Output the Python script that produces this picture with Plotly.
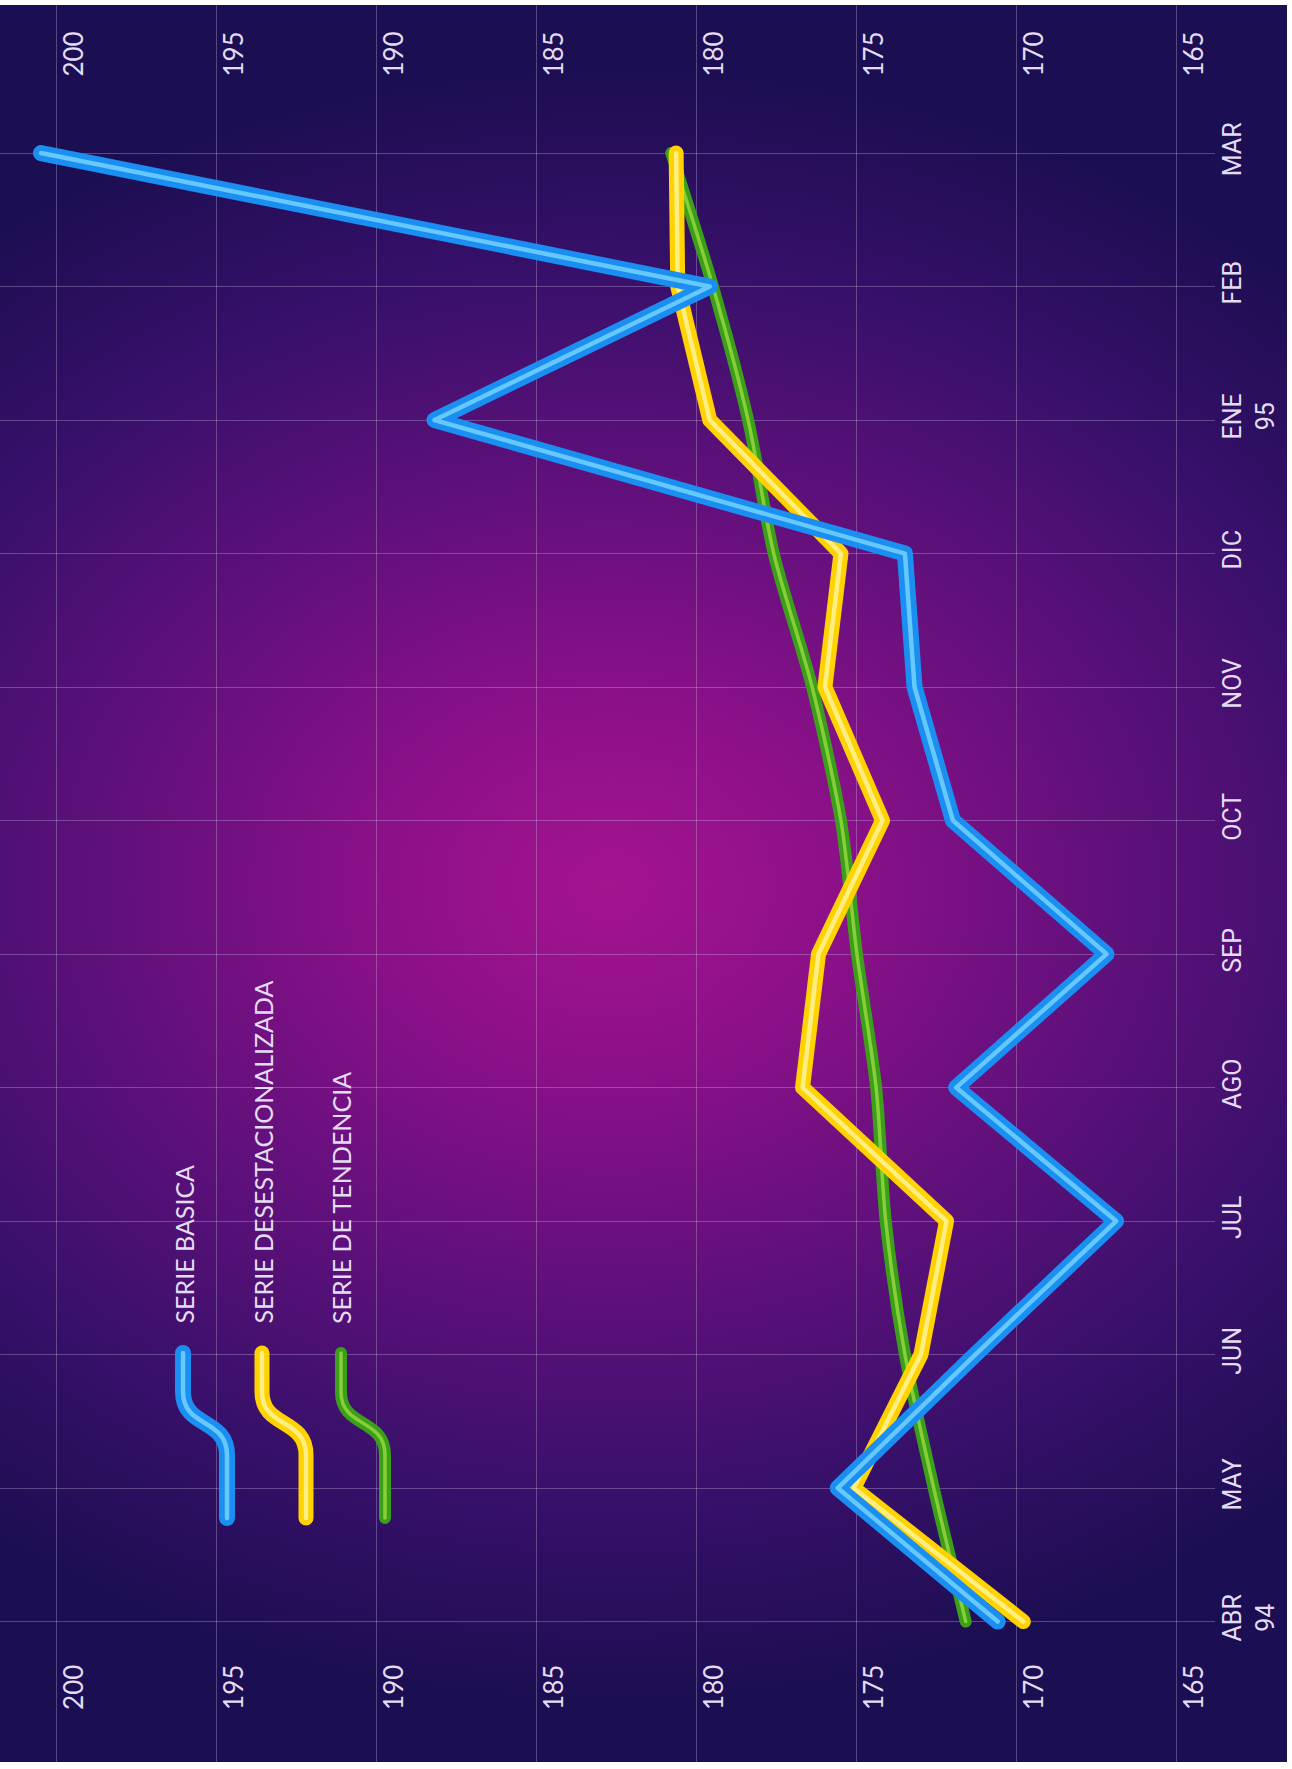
import base64
import plotly.graph_objects as go

# ---------------- data ----------------
months = ["ABR<br>94", "MAY", "JUN", "JUL", "AGO", "SEP", "OCT", "NOV", "DIC", "ENE<br>95", "FEB", "MAR"]
serie_basica = [170.6, 175.6, 171.3, 166.9, 171.9, 167.2, 172.0, 173.2, 173.5, 188.2, 179.6, 200.5]
serie_desestacionalizada = [169.8, 175.1, 173.0, 172.2, 176.7, 176.2, 174.2, 176.0, 175.5, 179.6, 180.6, 180.65]
serie_tendencia = [171.6, 172.6, 173.5, 174.1, 174.4, 175.0, 175.5, 176.4, 177.6, 178.4, 179.5, 180.8]
value_ticks = [200, 195, 190, 185, 180, 175, 170, 165]
value_ticktext = [str(v) for v in value_ticks]
series_names = ["SERIE BASICA", "SERIE DESESTACIONALIZADA", "SERIE DE TENDENCIA"]

# ---------------- geometry / style ----------------
W, H = 1292, 1769
ML, MR, MT, MB = 0, 77, 5, 7
PW, PH = W - ML - MR, H - MT - MB
XRANGE = [201.78, 163.81]
YRANGE = [-1.052, 12.109]

grid_col = "rgba(205,195,235,0.32)"
txt_col = "#e4dcf2"

styles = {
    "SERIE DE TENDENCIA": dict(outer="#3c9f19", inner="#93d83f", w=12, wi=3.5, shape="spline"),
    "SERIE DESESTACIONALIZADA": dict(outer="#ffd200", inner="#fff59a", w=15, wi=4.5, shape="linear"),
    "SERIE BASICA": dict(outer="#1b8ef2", inner="#74d4ff", w=16, wi=4.5, shape="linear"),
}
values = {
    "SERIE BASICA": serie_basica,
    "SERIE DESESTACIONALIZADA": serie_desestacionalizada,
    "SERIE DE TENDENCIA": serie_tendencia,
}

fig = go.Figure()
for name in ["SERIE DE TENDENCIA", "SERIE DESESTACIONALIZADA", "SERIE BASICA"]:
    st = styles[name]
    fig.add_trace(go.Scatter(x=values[name], y=months, mode="lines", name=name,
                             line=dict(color=st["outer"], width=st["w"], shape=st["shape"], smoothing=0.8),
                             showlegend=False, hoverinfo="skip"))
    fig.add_trace(go.Scatter(x=values[name], y=months, mode="lines", name=name,
                             line=dict(color=st["inner"], width=st["wi"], shape=st["shape"], smoothing=0.8),
                             opacity=0.85, showlegend=False, hoverinfo="skip"))

# invisible trace to carry the top value axis
fig.add_trace(go.Scatter(x=serie_basica, y=months, xaxis="x2", mode="lines",
                         line=dict(width=0, color="rgba(0,0,0,0)"),
                         showlegend=False, hoverinfo="skip"))

# ---------------- background gradient ----------------
bw, bh = 1287, 1757
svg = f"""<svg xmlns='http://www.w3.org/2000/svg' width='{bw}' height='{bh}' viewBox='0 0 {bw} {bh}' preserveAspectRatio='none'>
<defs><radialGradient id='g' gradientUnits='userSpaceOnUse' cx='610' cy='880' r='820'
 gradientTransform='translate(610 880) scale(1.25 1) translate(-610 -880)'>
<stop offset='0' stop-color='#a3148f'/>
<stop offset='0.22' stop-color='#8d1089'/>
<stop offset='0.48' stop-color='#62107c'/>
<stop offset='0.74' stop-color='#39106b'/>
<stop offset='1' stop-color='#1c0e52'/>
</radialGradient></defs>
<rect width='{bw}' height='{bh}' fill='#1a0d4c'/>
<rect width='{bw}' height='{bh}' fill='url(#g)'/>
</svg>"""
src = "data:image/svg+xml;base64," + base64.b64encode(svg.encode()).decode()

def px_x(px):
    return (px - ML) / PW

def px_y(py):
    return (H - MB - py) / PH

images = [dict(source=src, xref="paper", yref="paper", x=px_x(0), y=px_y(5),
               sizex=bw / PW, sizey=bh / PH, xanchor="left", yanchor="top",
               sizing="stretch", layer="below")]

# ---------------- legend (drawn) ----------------
shapes = []
annotations = []
leg_x = [183, 262, 341]
for i, name in enumerate(series_names):
    st = styles[name]
    x0 = leg_x[i]
    x1 = x0 + 44
    pts = [(x0, 1353), (x0, 1392), (x0, 1428), (x1, 1418), (x1, 1455), (x1, 1518)]
    p = [(px_x(a), px_y(b)) for a, b in pts]
    path = (f"M {p[0][0]},{p[0][1]} L {p[1][0]},{p[1][1]} "
            f"C {p[2][0]},{p[2][1]} {p[3][0]},{p[3][1]} {p[4][0]},{p[4][1]} "
            f"L {p[5][0]},{p[5][1]}")
    shapes.append(dict(type="path", path=path, xref="paper", yref="paper",
                       line=dict(color=st["outer"], width=st["w"])))
    shapes.append(dict(type="path", path=path, xref="paper", yref="paper",
                       line=dict(color=st["inner"], width=st["wi"]), opacity=0.85))
    annotations.append(dict(text=name, textangle=-90, xref="paper", yref="paper",
                            x=px_x(x0), y=px_y(1326), xanchor="center", yanchor="bottom",
                            showarrow=False,
                            font=dict(family="Lato, Open Sans, sans-serif", size=25, color=txt_col)))

tickfont_val = dict(family="Lato, Open Sans, sans-serif", size=26, color=txt_col)
tickfont_mon = dict(family="Liberation Sans Narrow, Roboto, sans-serif", size=25, color=txt_col)

fig.update_layout(
    width=W, height=H,
    margin=dict(l=ML, r=MR, t=MT, b=MB, pad=0),
    paper_bgcolor="white",
    plot_bgcolor="rgba(0,0,0,0)",
    images=images,
    shapes=shapes,
    annotations=annotations,
    showlegend=False,
    xaxis=dict(range=XRANGE, tickvals=value_ticks, ticktext=value_ticktext,
               tickangle=-90, ticklabelposition="inside", side="bottom",
               ticklabelstandoff=40, ticklabelshift=-18,
               showgrid=True, gridcolor=grid_col, gridwidth=1,
               zeroline=False, showline=False, ticks="", tickfont=tickfont_val),
    xaxis2=dict(range=XRANGE, matches="x", overlaying="x", side="top",
                tickvals=value_ticks, ticktext=value_ticktext,
                tickangle=-90, ticklabelposition="inside",
                ticklabelstandoff=9, ticklabelshift=-18,
                showgrid=False, zeroline=False, showline=False, ticks="",
                tickfont=tickfont_val),
    yaxis=dict(type="category", categoryorder="array", categoryarray=months,
               range=YRANGE, side="right", tickangle=-90,
               showgrid=True, gridcolor=grid_col, gridwidth=1,
               zeroline=False, showline=False, ticks="", tickfont=tickfont_mon),
)

post = ("document.body.style.margin='0';"
        "var s=document.createElement('style');"
        "s.textContent='.scatterlayer path.js-line{stroke-linejoin:round;stroke-linecap:round}"
        ".shapelayer path{stroke-linecap:round;stroke-linejoin:round}';"
        "document.head.appendChild(s);")

fig.write_html("out.html", config={"displayModeBar": False}, post_script=post)
